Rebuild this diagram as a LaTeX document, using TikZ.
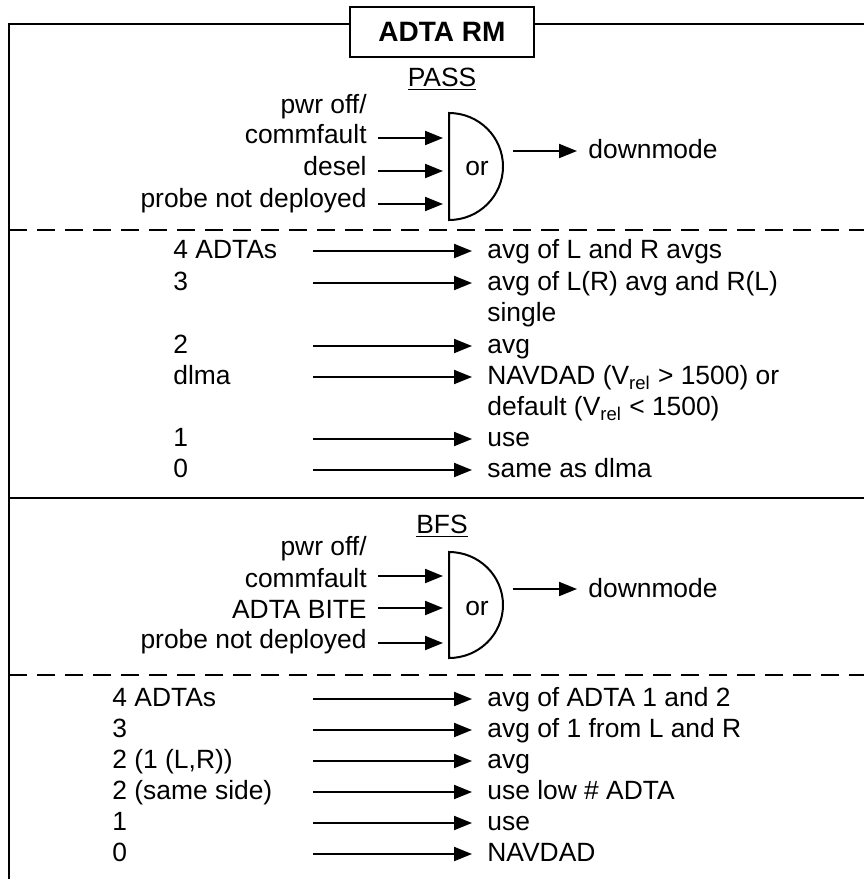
\documentclass[tikz,border=0pt]{standalone}
\usepackage{fontspec}
\setmainfont{Liberation Sans}
\usetikzlibrary{arrows.meta}

\begin{document}
\begin{tikzpicture}[x=0.5pt,y=-0.5pt,
  every node/.style={inner sep=0pt,font=\fontsize{13.2}{16}\selectfont},
  frame/.style={line width=0.75pt},
  sepline/.style={line width=0.75pt,dash pattern=on 9pt off 5pt},
  arr/.style={line width=1pt,-{Triangle[length=9pt,width=7pt]}},
  gate/.style={line width=1pt},
  lft/.style={anchor=base west},
  rgt/.style={anchor=base east}]

\useasboundingbox (0,0) rectangle (864,879);

% frame and title
\node[draw,line width=0.75pt,minimum width=92pt,minimum height=25pt,
  font=\fontsize{14}{16}\selectfont\bfseries] (title) at (442,32) {ADTA RM};
\coordinate (tl) at (9,24);
\draw[frame] (9,879) -- (tl) -- (tl -| title.west);
\draw[frame] (title.east |- tl) -- (864,24);

% PASS
\node[anchor=base] (pass) at (442,86) {\underline{PASS}};
\draw[gate] (449,113) arc[start angle=90,end angle=-90,x radius=27pt,y radius=26.75pt] -- cycle;
\node[anchor=base] (or1) at (477,175) {or};
\node[rgt] (p0) at (367,113) {pwr off/};
\node[rgt] (p1) at (367,143) {commfault};
\node[rgt] (p2) at (367,175) {desel};
\node[rgt] (p3) at (367,207) {probe not deployed};
\coordinate (g1a) at (443,138);
\coordinate (g1b) at (443,171);
\coordinate (g1c) at (443,204);
\coordinate (g1o) at (513,151);
\node[lft] (dm1) at (588,158) {downmode};
\foreach \i/\c in {1/g1a,2/g1b,3/g1c}
  \draw[arr] ([xshift=5.5pt]p\i.east |- \c) -- (\c);
\draw[arr] (g1o) -- ([xshift=-5.5pt]dm1.west |- g1o);

\draw[sepline] (9,230) -- (864,230);

\foreach \b/\l/\r [count=\i] in {258/4 ADTAs/avg of L and R avgs,
    290/3/avg of L(R) avg and R(L), 353/2/avg,
    384/dlma/{NAVDAD (V\textsubscript{rel} > 1500) or},
    446/1/use, 477/0/same as dlma}{
  \node[lft] (pl\i) at (173,\b) {\l};
  \node[lft] (pr\i) at (487,\b) {\r};
  \coordinate (pa\i) at (313,\b-7);
  \draw[arr] (pa\i) -- ([xshift=-7.5pt]pr\i.west |- pa\i);
}
\node[lft] (pr2b) at (487,321) {single};
\node[lft] (pr4b) at (487,415) {default (V\textsubscript{rel} < 1500)};

\draw[frame] (9,498) -- (864,498);

% BFS
\node[anchor=base] (bfs) at (442,533) {\underline{BFS}};
\draw[gate] (449,552) arc[start angle=90,end angle=-90,x radius=27pt,y radius=26.5pt] -- cycle;
\node[anchor=base] (or2) at (477,615) {or};
\node[rgt] (b0) at (367,555) {pwr off/};
\node[rgt] (b1) at (367,587) {commfault};
\node[rgt] (b2) at (367,618) {ADTA BITE};
\node[rgt] (b3) at (367,648) {probe not deployed};
\coordinate (g2a) at (443,576);
\coordinate (g2b) at (443,608);
\coordinate (g2c) at (443,643);
\coordinate (g2o) at (513,589);
\node[lft] (dm2) at (588,597) {downmode};
\foreach \i/\c in {1/g2a,2/g2b,3/g2c}
  \draw[arr] ([xshift=5.5pt]b\i.east |- \c) -- (\c);
\draw[arr] (g2o) -- ([xshift=-5.5pt]dm2.west |- g2o);

\draw[sepline] (9,675) -- (864,675);

\foreach \b/\l/\r [count=\i] in {706/4 ADTAs/avg of ADTA 1 and 2,
    737/3/avg of 1 from L and R, 768/{2 (1 (L,R))}/avg,
    799/2 (same side)/use low \# ADTA, 830/1/use, 861/0/NAVDAD}{
  \node[lft] (bl\i) at (112,\b) {\l};
  \node[lft] (br\i) at (487,\b) {\r};
  \coordinate (ba\i) at (313,\b-7);
  \draw[arr] (ba\i) -- ([xshift=-7.5pt]br\i.west |- ba\i);
}
\end{tikzpicture}
\end{document}
